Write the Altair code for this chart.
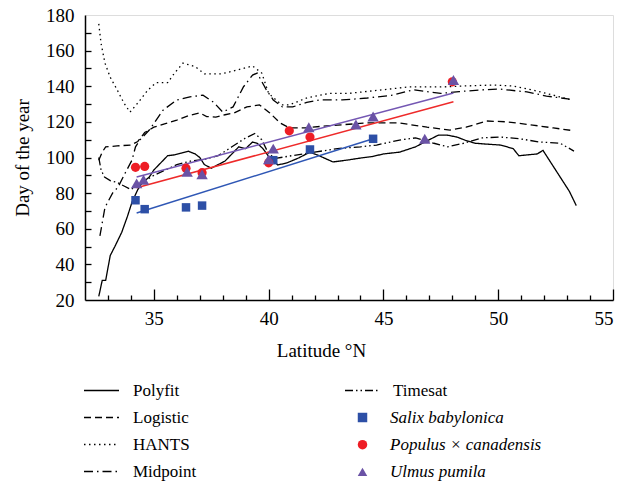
import altair as alt
import pandas as pd

# ---------------- data ----------------
polyfit_lat = [32.6, 32.75, 32.9, 33.1, 33.3, 33.6, 33.85, 34.05, 34.3, 34.5, 34.8, 35.0, 35.3, 35.6, 35.9,
               36.2, 36.5, 36.8, 37.0, 37.2, 37.5, 37.8, 38.1, 38.4, 38.7, 39.0, 39.3, 39.5, 39.75, 40.05,
               40.4, 40.8, 41.3, 41.8, 42.2, 42.8, 43.4, 44.0, 44.5, 45.0, 45.7, 46.4, 47.0, 47.4, 47.8,
               48.2, 48.6, 49.0, 49.5, 50.1, 50.65, 50.9, 51.3, 51.7, 51.95, 52.4, 52.8, 53.1, 53.4]
polyfit_doy = [22, 31, 31, 45, 50, 58, 67, 75, 82, 86, 89, 93, 97, 101, 101.5,
               102.5, 103.5, 102, 100, 96, 94, 96, 98, 102, 106, 105, 108.7, 108, 105, 99.7,
               95.8, 97, 99.7, 103, 101, 97.5, 98.5, 99.7, 100.5, 102, 103, 106, 110, 112.6, 112.5,
               111.5, 109.5, 108, 107.5, 107, 105, 101, 101.5, 102, 104, 95, 87, 81, 73]

logistic_lat = [32.6, 32.75, 32.9, 33.4, 34.0, 34.3, 34.6, 35.0, 35.5, 36.0, 36.5, 37.0, 37.3, 37.7, 38.1,
                38.5, 39.05, 39.6, 40.05, 40.5, 40.9, 41.6, 42.3, 43.0, 44.3, 45.7, 46.9, 47.9, 48.6, 49.5,
                50.4, 51.5, 52.4, 53.3]
logistic_doy = [98.5, 103, 106, 106.5, 107, 109, 114, 117, 119, 121, 123.5, 125, 123, 122.7, 124,
                125, 128.4, 129.5, 125, 119.4, 116.6, 116.6, 117.5, 118.2, 119.4, 119.4, 117, 115.4, 117, 120.5,
                120, 118.2, 116.6, 115]

hants_lat = [32.6, 32.7, 32.87, 33.1, 33.4, 33.7, 33.96, 34.3, 34.74, 35.1, 35.6, 35.9, 36.27, 36.8, 37.2,
             37.96, 38.6, 39.3, 39.7, 40.0, 40.57, 40.9, 41.65, 42.65, 43.5, 44.96, 46.1, 47.5, 48.6, 49.8,
             50.6, 51.5, 52.4, 53.2]
hants_doy = [175, 164, 153, 145, 138, 130.5, 125.5, 130.6, 137.9, 142, 142, 147.4, 153, 151, 147,
             147, 149, 151.4, 147.4, 136, 129.5, 129.5, 133.4, 136, 136, 138, 139.6, 139.6, 140.2, 140.7,
             140.2, 137.9, 135, 132.3]

midpoint_lat = [32.65, 32.87, 33.2, 33.44, 33.74, 34.05, 34.2, 34.4, 34.8, 35.4, 36.0, 36.57, 37.14, 37.6,
                38.0, 38.45, 38.9, 39.3, 39.5, 39.9, 40.2, 40.6, 41.05, 41.66, 42.2, 43.2, 44.3, 45.4,
                46.3, 47.5, 48.3, 49.3, 50.07, 51.25, 52.1, 53.1]
midpoint_doy = [56, 72, 80, 83.4, 91, 98.6, 106, 110, 115.4, 126.6, 132.3, 134, 135, 131,
                125.5, 128.4, 139.6, 146.3, 147.4, 138, 132.3, 128.4, 128.4, 131, 132.3, 132.3, 133.4, 135,
                138, 136, 137, 138, 138.4, 136.8, 134.5, 132.8]

timesat_lat = [32.6, 32.7, 32.85, 33.1, 33.4, 33.7, 34.0, 34.5, 35.0, 35.5, 36.0, 36.6, 37.2, 37.8, 38.4,
               39.0, 39.4, 39.7, 40.0, 40.3, 41.0, 42.0, 43.0, 44.0, 44.7, 45.7, 46.4, 47.2, 47.8, 48.5,
               49.3, 50.1, 51.0, 51.8, 52.7, 53.3]
timesat_doy = [100, 93, 89, 87, 86, 84, 82, 86, 90, 93, 96, 98, 99, 101, 106,
               111, 113.5, 110, 102, 99.5, 101, 103, 105, 106, 107, 109.8, 111, 108, 106, 108,
               111, 111.5, 110.4, 108.7, 108, 103.6]

salix_lat = [34.2, 34.6, 36.4, 37.1, 40.2, 41.8, 44.55]
salix_doy = [76, 71, 72, 73, 98.5, 104.5, 110.5]
populus_lat = [34.2, 34.6, 36.4, 37.1, 40.0, 40.9, 41.8, 48.0]
populus_doy = [94.5, 95, 94, 91.5, 97, 115, 111.5, 142.5]
ulmus_lat = [34.25, 34.55, 36.45, 37.1, 40.0, 40.2, 41.75, 43.8, 44.55, 46.8, 48.05]
ulmus_doy = [85.5, 87.5, 92, 90.5, 99, 105, 117, 118.5, 123, 110.5, 143.5]

# fitted lines (end points as drawn)
salix_fit_lat = [34.25, 44.55]
salix_fit_doy = [68.8, 110.5]
populus_fit_lat = [34.25, 48.05]
populus_fit_doy = [83, 131.3]
ulmus_fit_lat = [34.25, 48.05]
ulmus_fit_doy = [89, 136.2]

methods_main = ["Polyfit", "Logistic", "HANTS", "Midpoint"]
methods_extra = ["Timesat"]
species = ["Salix babylonica", "Populus × canadensis", "Ulmus pumila"]
species_colors = ["#2D4FA6", "#EE1D25", "#6A52A5"]
fit_colors = ["#2F57B5", "#EE2A2A", "#7457B3"]
marker_sizes = [72, 85, 130]

x_label_values = [35, 40, 45, 50, 55]
x_major_ticks = [35, 40, 45, 50, 55]
x_minor_ticks = [33, 34, 36, 37, 38, 39, 41, 42, 43, 44, 46, 47, 48, 49, 51, 52, 53, 54]
y_label_values = [20, 40, 60, 80, 100, 120, 140, 160, 180]
y_tick_values = [30, 40, 50, 60, 70, 80, 90, 100, 110, 120, 130, 140, 150, 160, 170]

# ---------------- tables ----------------
def curve(name, xs, ys):
    return pd.DataFrame({"lat": xs, "doy": ys, "method": name, "idx": range(len(xs))})

curves_main = pd.concat([
    curve("Polyfit", polyfit_lat, polyfit_doy),
    curve("Logistic", logistic_lat, logistic_doy),
    curve("HANTS", hants_lat, hants_doy),
    curve("Midpoint", midpoint_lat, midpoint_doy),
])
curves_extra = curve("Timesat", timesat_lat, timesat_doy)

point_tables = [
    pd.DataFrame({"lat": salix_lat, "doy": salix_doy, "species": species[0]}),
    pd.DataFrame({"lat": populus_lat, "doy": populus_doy, "species": species[1]}),
    pd.DataFrame({"lat": ulmus_lat, "doy": ulmus_doy, "species": species[2]}),
]
fit_tables = [
    pd.DataFrame({"lat": salix_fit_lat, "doy": salix_fit_doy}),
    pd.DataFrame({"lat": populus_fit_lat, "doy": populus_fit_doy}),
    pd.DataFrame({"lat": ulmus_fit_lat, "doy": ulmus_fit_doy}),
]

FONT = "Liberation Serif, Times New Roman, DejaVu Serif, serif"
xscale = alt.Scale(domain=[32, 55], nice=False, zero=False)
yscale = alt.Scale(domain=[20, 180], nice=False, zero=False)
color_scale = alt.Scale(domain=species, range=species_colors)
shape_scale = alt.Scale(domain=species, range=["square", "circle", "triangle-up"])

main_x_axis = alt.Axis(orient="bottom", values=x_label_values, ticks=False, domain=True,
                       domainColor="black", domainWidth=1.5, grid=False, labelFont=FONT,
                       labelFontSize=19, labelColor="black", labelPadding=9,
                       title="Latitude °N", titleFont=FONT, titleFontSize=19,
                       titleFontWeight="normal", titleColor="black",
                       titleX=236, titleY=50, titleAlign="center", titleBaseline="middle")
main_y_axis = alt.Axis(orient="left", values=y_label_values, ticks=False, domain=True,
                       domainColor="black", domainWidth=1.5, grid=False, labelFont=FONT,
                       labelFontSize=19, labelColor="black", labelPadding=11,
                       title="Day of the year", titleFont=FONT, titleFontSize=19,
                       titleFontWeight="normal", titleColor="black", titlePadding=13)
major_x_axis = alt.Axis(orient="bottom", values=x_major_ticks, labels=False, domain=False,
                        ticks=True, tickSize=11, offset=-11, tickColor="black", tickWidth=1.3,
                        grid=False, title=None)
tick_y_axis = alt.Axis(orient="left", values=y_tick_values, labels=False, domain=False,
                       ticks=True, tickSize=6, offset=-6, tickColor="black", tickWidth=1.3,
                       grid=False, title=None)
minor_x_axis = alt.Axis(orient="bottom", values=x_minor_ticks, labels=False, domain=False,
                        ticks=True, tickSize=5, offset=-5, tickColor="black", tickWidth=1.3,
                        grid=False, title=None)

line_legend_common = dict(orient="none", title=None, symbolType="stroke", symbolSize=1225,
                          symbolStrokeWidth=1.3, symbolStrokeColor="black", labelFont=FONT,
                          labelFontSize=17, labelColor="black", rowPadding=0, padding=0,
                          labelLimit=300)

main_lines = alt.Chart(curves_main).mark_line(color="black", strokeWidth=1.3).encode(
    x=alt.X("lat:Q", scale=xscale, axis=main_x_axis),
    y=alt.Y("doy:Q", scale=yscale, axis=main_y_axis),
    strokeDash=alt.StrokeDash("method:N",
        scale=alt.Scale(domain=methods_main, range=[[1, 0], [7, 4], [1.5, 3.5], [9, 4, 1.5, 4]]),
        legend=alt.Legend(legendX=-2, legendY=357, labelOffset=13, **line_legend_common)),
    detail="method:N",
    order="idx:Q",
)

extra_lines = alt.Chart(curves_extra).mark_line(color="black", strokeWidth=1.3).encode(
    x=alt.X("lat:Q", scale=xscale, axis=major_x_axis),
    y=alt.Y("doy:Q", scale=yscale, axis=tick_y_axis),
    strokeDash=alt.StrokeDash("method:N",
        scale=alt.Scale(domain=methods_extra, range=[[8, 3, 1.5, 3, 1.5, 3]]),
        legend=alt.Legend(legendX=259, legendY=357, labelOffset=12, **line_legend_common)),
    order="idx:Q",
)

fit_layers = []
for i, tbl in enumerate(fit_tables):
    fit_layers.append(
        alt.Chart(tbl).mark_line(strokeWidth=1.5, color=fit_colors[i]).encode(
            x=alt.X("lat:Q", scale=xscale, axis=minor_x_axis if i == 0 else None),
            y=alt.Y("doy:Q", scale=yscale, axis=None),
        )
    )

species_legend = alt.Legend(orient="none", legendX=269, legendY=394, title=None, labelFont=FONT,
                            labelFontSize=17, labelFontStyle="italic", labelColor="black",
                            labelOffset=19, rowPadding=9.2, padding=0, symbolSize=90,
                            labelLimit=300)
point_layers = []
for i, tbl in enumerate(point_tables):
    point_layers.append(
        alt.Chart(tbl).mark_point(filled=True, opacity=1, size=marker_sizes[i]).encode(
            x=alt.X("lat:Q", scale=xscale, axis=None),
            y=alt.Y("doy:Q", scale=yscale, axis=None),
            color=alt.Color("species:N", scale=color_scale, legend=species_legend),
            shape=alt.Shape("species:N", scale=shape_scale, legend=species_legend),
        )
    )

chart = alt.layer(main_lines, extra_lines, *fit_layers, *point_layers).resolve_scale(
    strokeDash="independent"
).resolve_legend(
    strokeDash="independent"
).resolve_axis(
    x="independent", y="independent"
).properties(
    width=528, height=285,
    autosize=alt.AutoSizeParams(type="none"),
    padding={"left": 77, "top": 7, "right": 18, "bottom": 181},
).configure_view(
    stroke="black", strokeWidth=1.5
).configure(background="white")

chart.save("out.html", embed_options={"renderer": "svg", "actions": False})
